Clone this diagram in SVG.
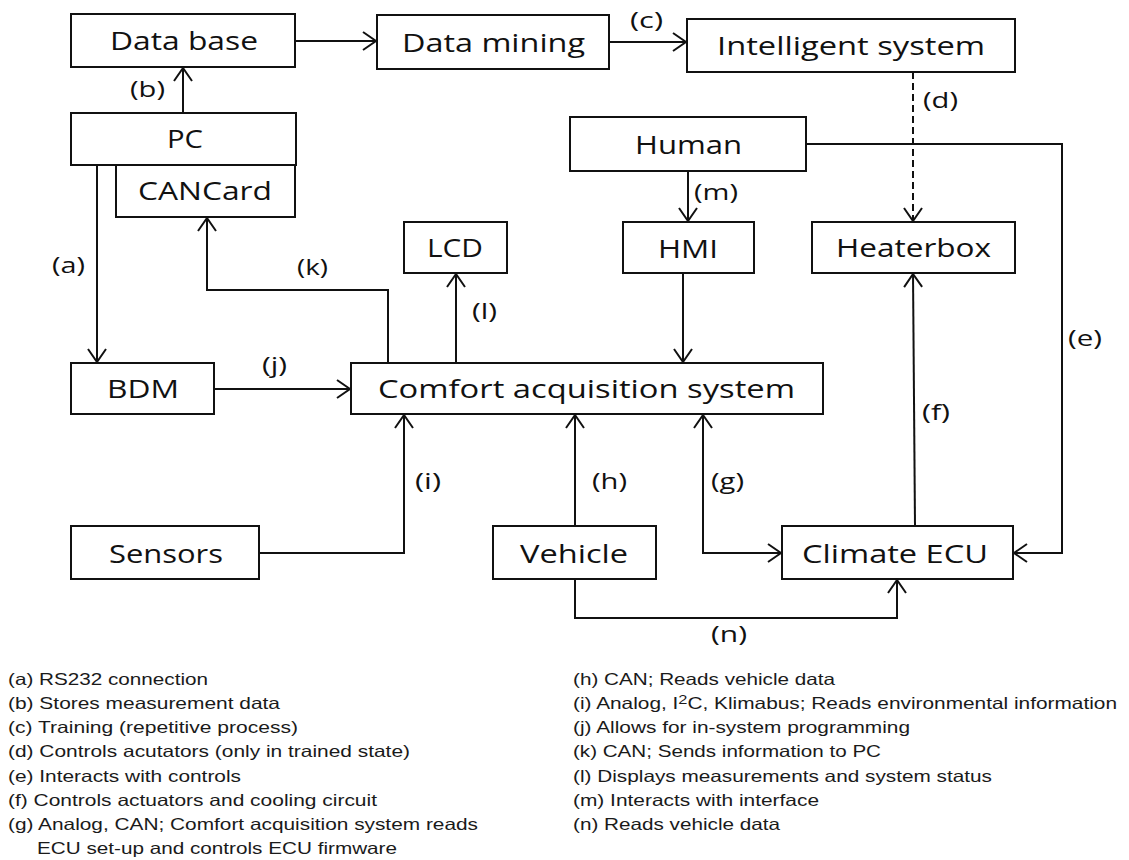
<svg xmlns="http://www.w3.org/2000/svg" width="1129" height="860" viewBox="0 0 1129 860">
<style>
.box rect{fill:#fff;stroke:#111;stroke-width:2}
.box text{font-family:"Open Sans","Noto Sans","Liberation Sans",sans-serif;font-size:25px;fill:#111}
.cn path{fill:none;stroke:#111;stroke-width:2}
.cl{font-family:"Open Sans","Noto Sans","Liberation Sans",sans-serif;font-size:21px;fill:#111}
.lg{font-family:"Liberation Sans",Arial,sans-serif;font-size:16.5px;fill:#1a1a1a}
</style>
<defs>
<marker id="arr" markerUnits="userSpaceOnUse" markerWidth="30" markerHeight="30" viewBox="-15 -15 30 30" refX="1" refY="0" orient="auto-start-reverse">
<path d="M-13,-9 L0,0 L-13,9" fill="none" stroke="#111" stroke-width="2"/>
</marker>
</defs>
<rect width="1129" height="860" fill="#fff"/>

<g id="n-database" class="box"><rect x="71" y="14" width="224" height="53"/><text x="110" y="50" textLength="148" lengthAdjust="spacingAndGlyphs">Data base</text></g>
<g id="n-datamining" class="box"><rect x="377" y="15" width="232" height="54"/><text x="402" y="52" textLength="183" lengthAdjust="spacingAndGlyphs">Data mining</text></g>
<g id="n-intelligent" class="box"><rect x="687" y="19" width="328" height="53"/><text x="717" y="55" textLength="268" lengthAdjust="spacingAndGlyphs">Intelligent system</text></g>
<g id="n-pc" class="box"><rect x="71" y="113" width="225" height="52"/><text x="167" y="148" textLength="36" lengthAdjust="spacingAndGlyphs">PC</text></g>
<g id="n-cancard" class="box"><rect x="116" y="165" width="179" height="52"/><text x="138" y="200" textLength="134" lengthAdjust="spacingAndGlyphs">CANCard</text></g>
<g id="n-human" class="box"><rect x="570" y="117" width="236" height="54"/><text x="635" y="154" textLength="107" lengthAdjust="spacingAndGlyphs">Human</text></g>
<g id="n-lcd" class="box"><rect x="404" y="222" width="103" height="51"/><text x="427" y="257" textLength="56" lengthAdjust="spacingAndGlyphs">LCD</text></g>
<g id="n-hmi" class="box"><rect x="623" y="222" width="131" height="51"/><text x="658" y="258" textLength="60" lengthAdjust="spacingAndGlyphs">HMI</text></g>
<g id="n-heaterbox" class="box"><rect x="812" y="222" width="203" height="51"/><text x="836" y="257" textLength="155" lengthAdjust="spacingAndGlyphs">Heaterbox</text></g>
<g id="n-bdm" class="box"><rect x="71" y="363" width="143" height="51"/><text x="107" y="398" textLength="72" lengthAdjust="spacingAndGlyphs">BDM</text></g>
<g id="n-comfort" class="box"><rect x="351" y="363" width="472" height="51"/><text x="378" y="398" textLength="417" lengthAdjust="spacingAndGlyphs">Comfort acquisition system</text></g>
<g id="n-sensors" class="box"><rect x="71" y="526" width="188" height="53"/><text x="109" y="563" textLength="114" lengthAdjust="spacingAndGlyphs">Sensors</text></g>
<g id="n-vehicle" class="box"><rect x="493" y="526" width="163" height="53"/><text x="520" y="563" textLength="108" lengthAdjust="spacingAndGlyphs">Vehicle</text></g>
<g id="n-climate" class="box"><rect x="782" y="526" width="231" height="53"/><text x="802" y="563" textLength="186" lengthAdjust="spacingAndGlyphs">Climate ECU</text></g>

<g id="connectors" class="cn">
<path d="M295,41 H377" marker-end="url(#arr)"/>
<path d="M609,42 H687" marker-end="url(#arr)"/>
<path d="M183,113 V67" marker-end="url(#arr)"/>
<path d="M97,165 V363" marker-end="url(#arr)"/>
<path d="M214,389 H351" marker-end="url(#arr)"/>
<path d="M388,363 V290 H207 V217" marker-end="url(#arr)"/>
<path d="M456,363 V273" marker-end="url(#arr)"/>
<path d="M683,273 V363" marker-end="url(#arr)"/>
<path d="M688,171 V222" marker-end="url(#arr)"/>
<path d="M913,72 V222" stroke-dasharray="7,4" marker-end="url(#arr)"/>
<path d="M806,144 H1062 V553 H1013" marker-end="url(#arr)"/>
<path d="M915,526 L913,273" marker-end="url(#arr)"/>
<path d="M259,553 H404 V414" marker-end="url(#arr)"/>
<path d="M575,526 V414" marker-end="url(#arr)"/>
<path d="M782,553 H703 V414" marker-start="url(#arr)" marker-end="url(#arr)"/>
<path d="M575,579 V618 H897 V579" marker-end="url(#arr)"/>
</g>

<g id="connector-labels">
<text class="cl" x="52" y="273" textLength="33" lengthAdjust="spacingAndGlyphs">(a)</text>
<text class="cl" x="130" y="97" textLength="35" lengthAdjust="spacingAndGlyphs">(b)</text>
<text class="cl" x="630" y="28" textLength="33" lengthAdjust="spacingAndGlyphs">(c)</text>
<text class="cl" x="923" y="108" textLength="35" lengthAdjust="spacingAndGlyphs">(d)</text>
<text class="cl" x="1068" y="346" textLength="34" lengthAdjust="spacingAndGlyphs">(e)</text>
<text class="cl" x="922" y="420" textLength="28" lengthAdjust="spacingAndGlyphs">(f)</text>
<text class="cl" x="711" y="489" textLength="33" lengthAdjust="spacingAndGlyphs">(g)</text>
<text class="cl" x="592" y="489" textLength="35" lengthAdjust="spacingAndGlyphs">(h)</text>
<text class="cl" x="415" y="489" textLength="26" lengthAdjust="spacingAndGlyphs">(i)</text>
<text class="cl" x="262" y="373" textLength="25" lengthAdjust="spacingAndGlyphs">(j)</text>
<text class="cl" x="297" y="275" textLength="31" lengthAdjust="spacingAndGlyphs">(k)</text>
<text class="cl" x="472" y="319" textLength="25" lengthAdjust="spacingAndGlyphs">(l)</text>
<text class="cl" x="694" y="200" textLength="44" lengthAdjust="spacingAndGlyphs">(m)</text>
<text class="cl" x="711" y="642" textLength="36" lengthAdjust="spacingAndGlyphs">(n)</text>
</g>

<g id="legend">
<text class="lg" x="8" y="685" textLength="200" lengthAdjust="spacingAndGlyphs">(a) RS232 connection</text>
<text class="lg" x="8" y="709" textLength="272" lengthAdjust="spacingAndGlyphs">(b) Stores measurement data</text>
<text class="lg" x="8" y="733" textLength="290" lengthAdjust="spacingAndGlyphs">(c) Training (repetitive process)</text>
<text class="lg" x="8" y="757" textLength="402" lengthAdjust="spacingAndGlyphs">(d) Controls acutators (only in trained state)</text>
<text class="lg" x="8" y="782" textLength="233" lengthAdjust="spacingAndGlyphs">(e) Interacts with controls</text>
<text class="lg" x="8" y="806" textLength="369" lengthAdjust="spacingAndGlyphs">(f) Controls actuators and cooling circuit</text>
<text class="lg" x="8" y="830" textLength="470" lengthAdjust="spacingAndGlyphs">(g) Analog, CAN; Comfort acquisition system reads</text>
<text class="lg" x="37" y="854" textLength="360" lengthAdjust="spacingAndGlyphs">ECU set-up and controls ECU firmware</text>
<text class="lg" x="573" y="685" textLength="262" lengthAdjust="spacingAndGlyphs">(h) CAN; Reads vehicle data</text>
<text class="lg" x="573" y="709" textLength="544" lengthAdjust="spacingAndGlyphs">(i) Analog, I<tspan font-size="13" dy="-5">2</tspan><tspan dy="5">C, Klimabus; Reads environmental information</tspan></text>
<text class="lg" x="573" y="733" textLength="337" lengthAdjust="spacingAndGlyphs">(j) Allows for in-system programming</text>
<text class="lg" x="573" y="757" textLength="308" lengthAdjust="spacingAndGlyphs">(k) CAN; Sends information to PC</text>
<text class="lg" x="573" y="782" textLength="419" lengthAdjust="spacingAndGlyphs">(l) Displays measurements and system status</text>
<text class="lg" x="573" y="806" textLength="246" lengthAdjust="spacingAndGlyphs">(m) Interacts with interface</text>
<text class="lg" x="573" y="830" textLength="207" lengthAdjust="spacingAndGlyphs">(n) Reads vehicle data</text>
</g>
</svg>
